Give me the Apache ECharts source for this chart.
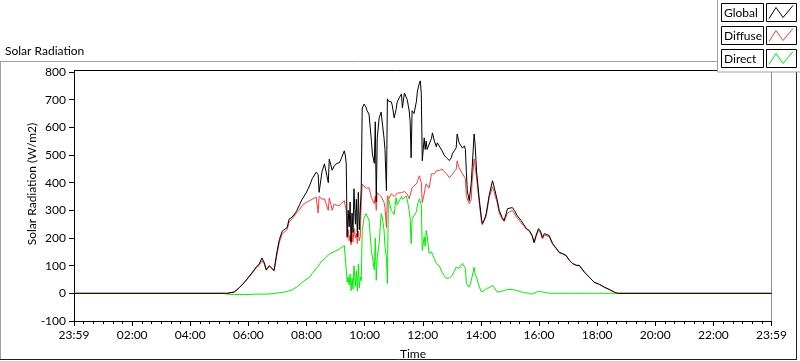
<!DOCTYPE html>
<html>
<head>
<meta charset="utf-8">
<script src="https://cdn.jsdelivr.net/npm/echarts@6/dist/echarts.min.js"></script>
<style>
html,body{margin:0;padding:0;background:#fff;}
#chart{width:800px;height:361px;}
</style>
</head>
<body>
<div id="chart"></div>
<script>
// Time in minutes after the axis start (23:59 of previous day)
const times = [0,310,316,331,341,351,362,372,376,382,388,393,397,403,407,413,417,419,424,430,434,440,444,450,459,465,471,479,486,492,500,504,506,512,517,521,525,527,531,533,537,543,548,552,558,560,562,564,566,568,570,572,574,576,578,581,583,585,587,589,591,593,595,599,603,605,609,614,616,620,622,624,626,630,634,636,640,642,645,647,649,651,655,657,661,665,667,671,676,678,682,686,688,692,694,696,698,702,707,709,713,715,717,719,723,725,727,729,733,738,740,744,748,750,754,760,764,769,775,779,781,785,789,791,795,802,806,808,810,812,816,820,822,826,828,831,837,841,843,847,851,857,864,868,874,878,884,888,895,899,905,909,915,923,930,934,940,946,950,954,959,963,967,971,975,981,988,996,1002,1008,1016,1023,1029,1037,1043,1054,1064,1074,1085,1095,1105,1116,1122,1440];

const globalRad = [0,0,0,5,20,38,62,85,95,105,128,110,85,100,102,83,90,150,195,225,228,238,268,275,295,318,340,362,388,415,438,430,365,440,468,470,400,485,490,445,460,470,472,488,515,500,470,205,300,240,330,185,290,220,378,250,340,205,365,230,300,380,670,684,672,660,648,551,504,470,620,330,560,634,655,660,562,520,371,703,695,690,692,680,634,665,690,706,720,670,724,720,700,659,620,490,660,650,695,731,760,768,720,479,562,520,550,520,515,560,580,550,530,544,540,515,500,490,480,490,504,515,526,576,544,525,533,520,440,371,335,396,454,576,540,443,335,274,252,265,288,353,407,380,335,299,274,263,306,305,310,300,281,263,245,234,227,209,184,210,234,225,202,216,220,209,180,162,148,144,137,119,108,101,101,76,58,40,32,22,14,4,0,0];

const diffuseRad = [0,0,0,5,20,38,60,82,92,100,118,105,83,98,98,80,85,140,185,215,218,230,258,268,290,300,318,328,335,340,348,290,350,340,342,338,300,345,318,300,322,318,318,324,335,332,300,200,230,190,210,175,220,185,235,200,215,180,225,190,205,330,395,390,380,385,382,346,340,324,352,300,364,360,350,345,330,310,238,353,350,345,360,360,350,355,362,360,364,364,368,365,358,342,345,340,382,385,396,405,425,420,400,328,360,380,396,400,380,432,430,432,443,445,443,450,440,432,418,425,430,440,448,479,454,432,425,415,350,346,324,340,407,486,460,420,320,263,248,255,280,345,385,362,325,290,268,260,290,292,300,295,272,255,240,232,225,205,182,205,228,218,196,210,216,205,178,160,146,143,136,118,108,102,101,76,58,40,32,22,14,4,0,0];

const directRad = [0,0,-3,-4,-4,-5,-4,-3,-4,-3,-3,-3,-2,-2,-2,-1,0,1,2,3,5,7,9,12,22,30,40,50,58,72,90,98,100,118,125,130,138,144,146,145,150,155,160,165,173,178,180,40,60,30,70,10,55,15,100,25,80,8,105,20,60,45,225,275,288,280,265,155,150,85,200,47,130,180,288,280,230,170,130,36,346,330,300,299,285,346,320,324,350,340,345,352,338,299,270,180,270,275,295,320,342,345,320,155,205,170,227,210,144,150,141,125,108,105,100,76,65,54,55,62,65,80,95,101,90,108,108,90,40,30,22,45,47,94,70,58,22,5,5,10,18,20,29,22,4,3,8,10,14,14,14,12,10,5,3,1,0,-3,0,4,7,6,5,3,2,1,0,0,0,0,0,0,0,0,0,0,0,0,0,0,0,0,0,0];

const xTickLabels = ['23:59','02:00','04:00','06:00','08:00','10:00','12:00','14:00','16:00','18:00','20:00','22:00','23:59'];
const legendNames = ['Global','Diffuse','Direct'];
const seriesColors = ['#000000','#ff3b3b','#00f000'];

const FONT = 'Lato';
const chart = echarts.init(document.getElementById('chart'), null, {renderer:'canvas'});

function pairs(v){ return times.map((t,i)=>[t, v[i]]); }

const legendGraphics = [];
legendGraphics.push({type:'rect', shape:{x:717.5,y:-1,width:90,height:73}, style:{fill:'#fff',stroke:'#a0a0a0',lineWidth:1}, z:100});
legendNames.forEach((n,i)=>{
  const y0 = 3.5 + i*23;
  legendGraphics.push({type:'rect', shape:{x:721.5,y:y0,width:42,height:18}, style:{fill:'#fff',stroke:'#000',lineWidth:1}, z:101});
  legendGraphics.push({type:'text', x:724, y:y0+9.5, style:{text:n, fill:'#000', font:'12px "'+FONT+'"', verticalAlign:'middle', align:'left'}, z:102});
  legendGraphics.push({type:'rect', shape:{x:766.5,y:y0,width:30,height:18}, style:{fill:'#fff',stroke:'#000',lineWidth:1}, z:101});
  legendGraphics.push({type:'polyline', shape:{points:[[769,y0+15],[776,y0+4],[783,y0+14],[793,y0+2]]}, style:{stroke:seriesColors[i],lineWidth:1,fill:null}, z:102});
});

const option = {
  animation:false,
  backgroundColor:'#fff',
  grid:{left:74, top:72, width:697.5, height:249, containLabel:false},
  xAxis:{
    type:'value', min:0, max:1440, interval:120,
    axisLine:{show:true, onZero:false, lineStyle:{color:'#000', width:1}},
    axisTick:{show:true, inside:false, length:5, lineStyle:{color:'#000'}},
    minorTick:{show:true, splitNumber:6, length:3, lineStyle:{color:'#000'}},
    axisLabel:{color:'#000', fontSize:12, fontFamily:FONT, margin:8,
      formatter:(v)=> xTickLabels[Math.round(v/120)] },
    splitLine:{show:false}, minorSplitLine:{show:false}
  },
  yAxis:{
    type:'value', min:-100, max:800, interval:100,
    axisLine:{show:true, lineStyle:{color:'#000', width:1}},
    axisTick:{show:true, inside:false, length:5, lineStyle:{color:'#000'}},
    axisLabel:{color:'#000', fontSize:12, fontFamily:FONT, margin:8},
    splitLine:{show:false}
  },
  series:[
    {name:'Direct', type:'line', data:pairs(directRad), showSymbol:false, symbol:'none', lineStyle:{color:seriesColors[2], width:1}, itemStyle:{color:seriesColors[2]}},
    {name:'Diffuse', type:'line', data:pairs(diffuseRad), showSymbol:false, symbol:'none', lineStyle:{color:seriesColors[1], width:1}, itemStyle:{color:seriesColors[1]}},
    {name:'Global', type:'line', data:pairs(globalRad), showSymbol:false, symbol:'none', lineStyle:{color:seriesColors[0], width:1}, itemStyle:{color:seriesColors[0]}}
  ],
  graphic:[
    // outer panel frame
    {type:'line', shape:{x1:0,y1:61.5,x2:717,y2:61.5}, style:{stroke:'#a0a0a0',lineWidth:1}},
    {type:'line', shape:{x1:0.5,y1:61.5,x2:0.5,y2:360}, style:{stroke:'#a0a0a0',lineWidth:1}},
    {type:'line', shape:{x1:0,y1:359.5,x2:797,y2:359.5}, style:{stroke:'#202020',lineWidth:1}},
    {type:'line', shape:{x1:796.5,y1:72,x2:796.5,y2:360}, style:{stroke:'#202020',lineWidth:1}},
    // plot frame
    {type:'line', shape:{x1:74,y1:70.5,x2:717,y2:70.5}, style:{stroke:'#000',lineWidth:1}},
    {type:'line', shape:{x1:74.5,y1:70,x2:74.5,y2:73}, style:{stroke:'#000',lineWidth:1}},
    {type:'line', shape:{x1:771.5,y1:70,x2:771.5,y2:322}, style:{stroke:'#909090',lineWidth:1}},
    // titles
    {type:'text', x:5, y:51, style:{text:'Solar Radiation', fill:'#000', font:'12px "'+FONT+'"', verticalAlign:'middle', align:'left'}},
    {type:'text', x:32, y:184, rotation:Math.PI/2, style:{text:'Solar Radiation (W/m2)', fill:'#000', font:'12px "'+FONT+'"', verticalAlign:'middle', align:'center'}},
    {type:'text', x:413, y:354, style:{text:'Time', fill:'#000', font:'12px "'+FONT+'"', verticalAlign:'middle', align:'center'}}
  ].concat(legendGraphics)
};
chart.setOption(option);
</script>
</body>
</html>
